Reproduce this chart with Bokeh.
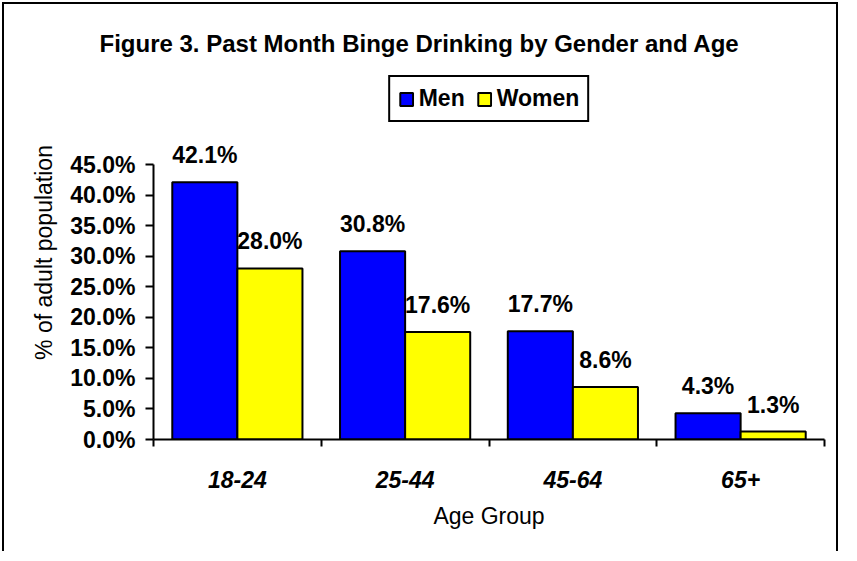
from bokeh.plotting import figure
from bokeh.models import ColumnDataSource, LabelSet, Legend, LegendItem, FixedTicker, Range1d
from bokeh.core.properties import value
from bokeh.embed import file_html
from bokeh.resources import INLINE

categories = ["18-24", "25-44", "45-64", "65+"]
men = [42.1, 30.8, 17.7, 4.3]
women = [28.0, 17.6, 8.6, 1.3]
y_ticks = [0, 5, 10, 15, 20, 25, 30, 35, 40, 45]
y_tick_labels = ["0.0%", "5.0%", "10.0%", "15.0%", "20.0%", "25.0%", "30.0%", "35.0%", "40.0%", "45.0%"]

FONT = "Liberation Sans"
BAR_W = 0.388
centers = [i + 0.5 for i in range(len(categories))]
bounds_x = [float(i) for i in range(len(categories) + 1)]

src_m = ColumnDataSource(dict(x=[c - BAR_W / 2 for c in centers], top=men,
                              label=[f"{v:.1f}%" for v in men]))
src_w = ColumnDataSource(dict(x=[c + BAR_W / 2 for c in centers], top=women,
                              label=[f"{v:.1f}%" for v in women]))

p = figure(width=836, height=549, x_range=Range1d(0, len(categories)), y_range=Range1d(0, 61.2),
           output_backend="svg", toolbar_location=None,
           min_border_left=149, min_border_right=16, min_border_bottom=114, min_border_top=61)
p.styles = {"border-top": "2px solid black", "border-left": "2px solid black",
            "border-right": "2px solid black", "margin-left": "2px", "margin-top": "2px"}

p.background_fill_color = "white"
p.border_fill_color = "white"
p.outline_line_color = None
p.xgrid.visible = False
p.ygrid.visible = False

r_m = p.vbar(x="x", top="top", width=BAR_W, bottom=0, source=src_m,
             fill_color="#0000FF", line_color="black", line_width=2)
r_w = p.vbar(x="x", top="top", width=BAR_W, bottom=0, source=src_w,
             fill_color="#FFFF00", line_color="black", line_width=2)

for src in (src_m, src_w):
    p.add_layout(LabelSet(x="x", y="top", text="label", source=src, y_offset=19,
                          text_align="center", text_baseline="alphabetic",
                          text_font=value(FONT), text_font_size=value("23px"),
                          text_font_style="bold", text_color="black"))

p.title.text = "Figure 3.  Past Month Binge Drinking by Gender and Age"
p.title.text_font = FONT
p.title.text_font_size = "24px"
p.title.text_font_style = "bold"
p.title.text_color = "black"
p.title.align = "left"
p.title.offset = -54
p.title.standoff = 18

legend = Legend(items=[LegendItem(label="Men", renderers=[r_m]),
                       LegendItem(label="Women", renderers=[r_w])],
                location="top", orientation="horizontal", margin=10, padding=8,
                spacing=11, glyph_width=16, glyph_height=16, label_standoff=5,
                border_line_color="black", border_line_width=2, border_line_alpha=1,
                background_fill_color="white", background_fill_alpha=1,
                label_text_font=FONT, label_text_font_size="23px",
                label_text_font_style="bold", label_text_color="black")
p.add_layout(legend, "center")

ya = p.yaxis[0]
ya.ticker = FixedTicker(ticks=y_ticks)
ya.major_label_overrides = dict(zip(y_ticks, y_tick_labels))
ya.bounds = (0, 45)
ya.axis_line_width = 2
ya.axis_line_color = "black"
ya.major_tick_line_width = 2
ya.major_tick_line_color = "black"
ya.major_tick_out = 8
ya.major_tick_in = 0
ya.minor_tick_line_color = None
ya.major_label_standoff = 10
ya.major_label_text_font = FONT
ya.major_label_text_font_size = "23px"
ya.major_label_text_font_style = "bold"
ya.major_label_text_color = "black"
ya.axis_label = "% of adult population"
ya.axis_label_text_font = FONT
ya.axis_label_text_font_size = "23px"
ya.axis_label_text_font_style = "normal"
ya.axis_label_text_color = "black"
ya.axis_label_standoff = 10

xa = p.xaxis[0]
xa.ticker = FixedTicker(ticks=centers, minor_ticks=bounds_x)
xa.major_label_overrides = dict(zip(centers, categories))
xa.axis_line_width = 2
xa.axis_line_color = "black"
xa.major_tick_line_color = None
xa.major_tick_out = 0
xa.major_tick_in = 0
xa.minor_tick_line_width = 2
xa.minor_tick_line_color = "black"
xa.minor_tick_out = 7
xa.minor_tick_in = 0
xa.major_label_standoff = 24
xa.major_label_text_font = FONT
xa.major_label_text_font_size = "23px"
xa.major_label_text_font_style = "bold italic"
xa.major_label_text_color = "black"
xa.axis_label = "Age Group"
xa.axis_label_text_font = FONT
xa.axis_label_text_font_size = "23px"
xa.axis_label_text_font_style = "normal"
xa.axis_label_text_color = "black"
xa.axis_label_standoff = 12

open("out.html", "w").write(file_html(p, INLINE))
